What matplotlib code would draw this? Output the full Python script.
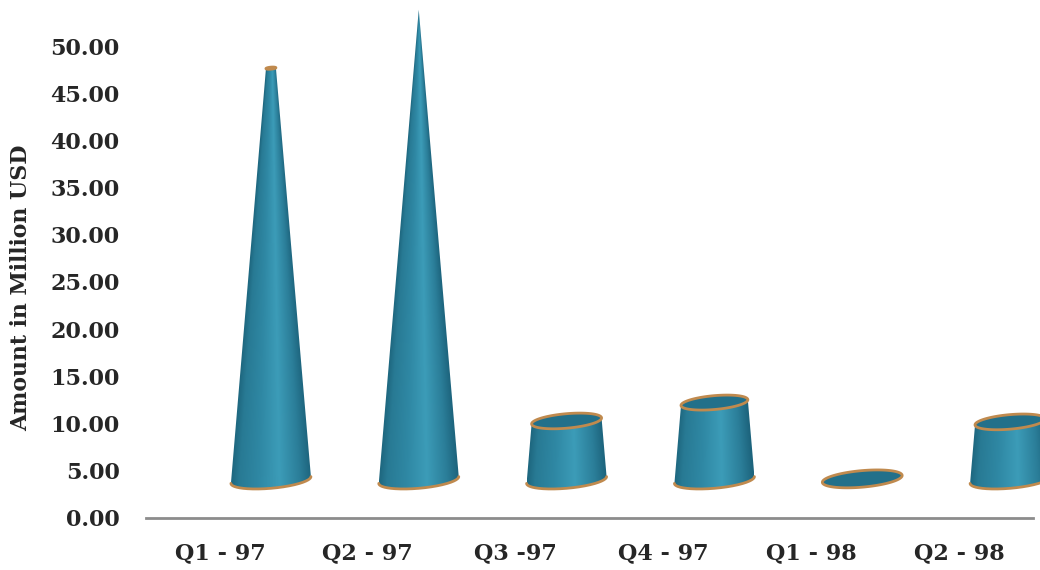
import numpy as np
import matplotlib
matplotlib.use("Agg")
import matplotlib.pyplot as plt
from matplotlib.colors import LinearSegmentedColormap
from matplotlib.patches import Polygon

quarters = ["Q1 - 97", "Q2 - 97", "Q3 -97", "Q4 - 97", "Q1 - 98", "Q2 - 98"]
tops = [47.7, 53.9, 10.25, 12.2, 4.1, 10.15]
floor = 3.98
yticks = [0, 5, 10, 15, 20, 25, 30, 35, 40, 45, 50]

plt.rcParams["font.family"] = ["DejaVu Serif", "Liberation Serif"]
plt.rcParams["font.weight"] = "bold"

W, H = 1040, 570
fig = plt.figure(figsize=(W / 100, H / 100), dpi=100)
ax = fig.add_axes([146 / W, (H - 517.5) / H, (1033 - 146) / W, 517.5 / H])
ax.set_xlim(-0.5, 5.5)
ax.set_ylim(0, 517.5 / 9.42)
ax.set_autoscale_on(False)

# pixel sizes turned into data units
px_x = 6 / (1033 - 146)
px_y = 1 / 9.42

shade = LinearSegmentedColormap.from_list(
    "cone",
    [
        (0.0, "#1e677f"),
        (0.1, "#287a94"),
        (0.35, "#2f88a4"),
        (0.6, "#3c9cb8"),
        (0.85, "#2b7e99"),
        (1.0, "#1d647d"),
    ],
)

hw_base = 40
b_base = 8.3
tilt_base = 3.4
offset = 0.345
t = np.linspace(np.pi, 0, 161)
u = np.cos(t)

for i, top in enumerate(tops):
    cx = i + offset
    ratio = max(1 - (top - floor) / (max(tops) - floor), 0)
    hw_top = hw_base * ratio
    b_top = b_base * ratio
    tilt_top = tilt_base * ratio

    low = floor + px_y * (-b_base * np.sin(t) + tilt_base * u)
    up = top + px_y * (b_top * np.sin(t) + tilt_top * u)
    up_under = top + px_y * (-b_top * np.sin(t) + tilt_top * u)
    x_low = cx + px_x * hw_base * u
    x_up = cx + px_x * hw_top * u

    if top - floor > 1:
        # shading follows the taper, the outline does the clipping
        y0, y1 = low.min(), up.max()
        x0, x1 = x_low.min(), x_low.max()
        gx, gy = np.meshgrid(np.linspace(x0, x1, 400), np.linspace(y0, y1, 600))
        frac = np.clip((gy - floor) / (top - floor), 0, 1)
        half = px_x * (hw_base + (hw_top - hw_base) * frac)
        C = np.clip((gx - cx) / np.maximum(half, 1e-6), -1, 1) / 2 + 0.5
        im = ax.imshow(C, extent=(x0, x1, y0, y1), origin="lower", aspect="auto",
                       cmap=shade, vmin=0, vmax=1, interpolation="bilinear", zorder=2)
        outline = Polygon(np.c_[np.r_[x_low, x_up[::-1]], np.r_[low, up[::-1]]],
                          closed=True, transform=ax.transData)
        im.set_clip_path(outline)
        im.set_clip_box(fig.bbox)
        ax.plot(x_low, low, color="#c08a4e", lw=2, solid_capstyle="round",
                clip_on=False, zorder=3)

    # open top of the cone
    ax.fill(
        np.r_[x_up, x_up[::-1]],
        np.r_[up, up_under[::-1]],
        facecolor="#22708a",
        edgecolor="#c08a4e",
        lw=2,
        clip_on=False,
        zorder=4,
    )

ax.set_xticks(range(len(quarters)))
ax.set_xticklabels(quarters, fontsize=16, fontweight="bold", color="#262626")
ax.set_yticks(yticks)
ax.set_yticklabels([f"{v:.2f}" for v in yticks], fontsize=16,
                   fontweight="bold", color="#262626")
ax.tick_params(axis="both", length=0)
ax.tick_params(axis="x", pad=18)
ax.tick_params(axis="y", pad=19)
ax.set_ylabel("Amount in Million USD", fontsize=15.8, fontweight="bold",
              color="#262626", labelpad=0)
ax.yaxis.set_label_coords(-(146 - 32) / (1033 - 146), (517.5 - 288) / 517.5)

for side in ["top", "left", "right"]:
    ax.spines[side].set_visible(False)
ax.spines["bottom"].set_color("#8c8c8c")
ax.spines["bottom"].set_linewidth(2)

fig.savefig("out.png", dpi=100)
